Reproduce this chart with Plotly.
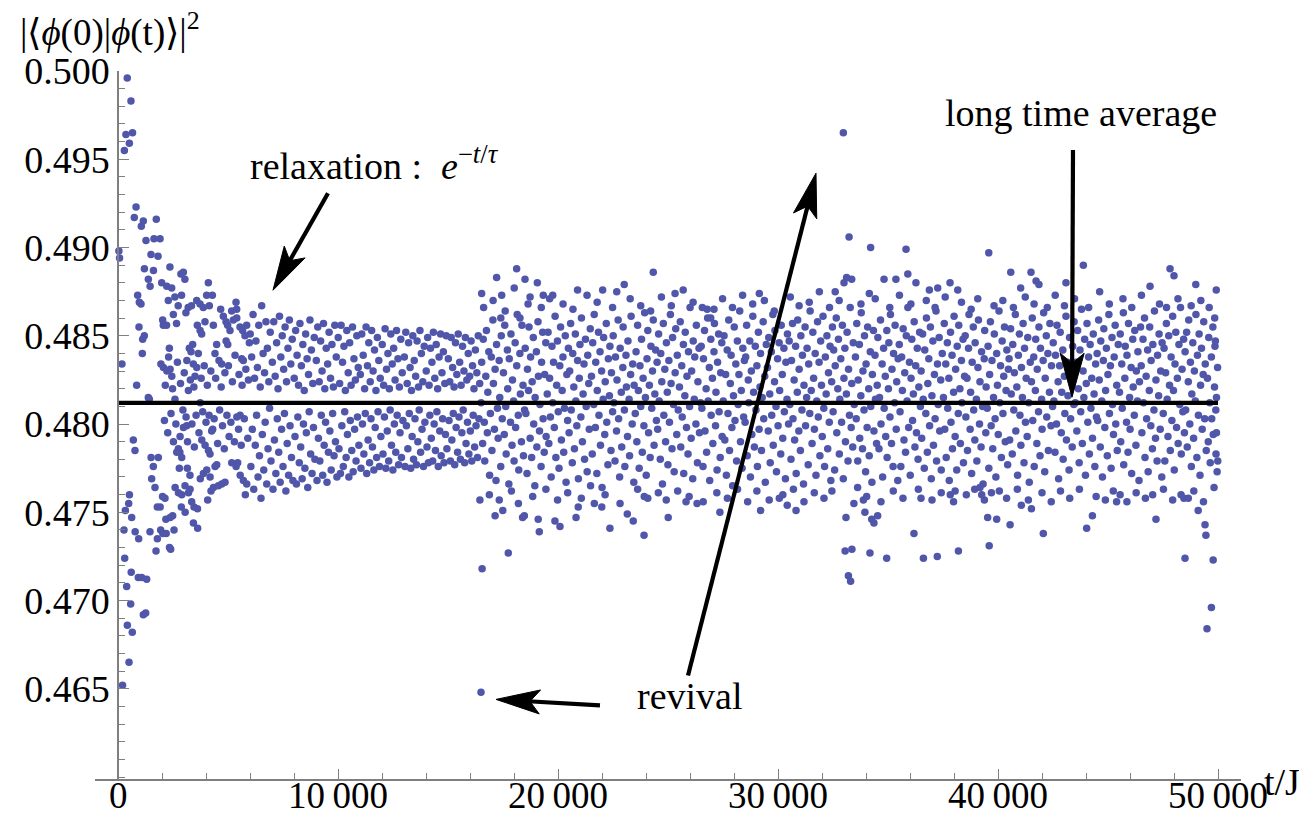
import math
import plotly.graph_objects as go

# Overlap |<phi(0)|phi(t)>|^2 sampled against t/J

# t/J < 2000 : fast initial relaxation
t_early = [
    40, 70, 180, 206, 272, 290, 304, 334, 360, 394,
    420, 424, 486, 500, 516, 520, 576, 590, 600, 622,
    650, 660, 696, 740, 772, 780, 820, 848, 894, 924,
    940, 954, 970, 1046, 1060, 1076, 1106, 1122, 1150, 1152,
    1196, 1200, 1258, 1272, 1304, 1378, 1380, 1424, 1454, 1460,
    1500, 1504, 1530, 1606, 1612, 1636, 1682, 1728, 1740, 1786,
    1790, 1820, 1832, 1910, 1916, 1940, 1950, 1986,
]
y_early = [
    0.4898, 0.4894, 0.4834, 0.4652, 0.4740, 0.4955, 0.4724, 0.4751, 0.4964, 0.4708,
    0.4996, 0.4686, 0.4755, 0.4665, 0.4959, 0.4760, 0.4698, 0.4983, 0.4716, 0.4747,
    0.4682, 0.4965, 0.4791, 0.4917, 0.4785, 0.4739, 0.4923, 0.4822, 0.4873, 0.4713,
    0.4735, 0.4855, 0.4869, 0.4868, 0.4912, 0.4713, 0.4840, 0.4848, 0.4915, 0.4692,
    0.4850, 0.4888, 0.4693, 0.4904, 0.4712, 0.4815, 0.4882, 0.4814, 0.4739, 0.4878,
    0.4896, 0.4781, 0.4769, 0.4776, 0.4887, 0.4905, 0.4764, 0.4728, 0.4916, 0.4753,
    0.4735, 0.4895, 0.4781, 0.4905, 0.4753, 0.4740, 0.4834, 0.4880,
]

# 2000 <= t/J < 6000 : the two branches close in
t_decay = [
    2024, 2030, 2036, 2060, 2066, 2136, 2176, 2190, 2206, 2216,
    2222, 2286, 2334, 2340, 2360, 2368, 2372, 2394, 2440, 2446,
    2484, 2516, 2546, 2584, 2590, 2596, 2660, 2670, 2736, 2744,
    2748, 2788, 2812, 2822, 2860, 2878, 2888, 2896, 2900, 2970,
    2976, 3040, 3046, 3052, 3086, 3094, 3122, 3152, 3190, 3198,
    3204, 3242, 3272, 3276, 3318, 3340, 3348, 3394, 3424, 3428,
    3454, 3500, 3576, 3580, 3606, 3612, 3620, 3728, 3732, 3736,
    3740, 3804, 3808, 3878, 3882, 3954, 3958, 4030, 4034, 4076,
    4106, 4110, 4152, 4182, 4186, 4228, 4258, 4288, 4304, 4334,
    4338, 4408, 4412, 4484, 4488, 4560, 4666, 4712, 4716, 4788,
    4864, 4910, 4914, 4984, 4988, 5090, 5166, 5170, 5242, 5364,
    5368, 5394, 5398, 5402, 5440, 5546, 5550, 5554, 5622, 5666,
    5696, 5700, 5772, 5788, 5848, 5852, 5970,
]
y_decay = [
    0.4759, 0.4859, 0.4738, 0.4856, 0.4832, 0.4758, 0.4746, 0.4738, 0.4856, 0.4878,
    0.4830, 0.4870, 0.4843, 0.4730, 0.4889, 0.4831, 0.4747, 0.4729, 0.4877, 0.4827,
    0.4748, 0.4862, 0.4740, 0.4872, 0.4814, 0.4764, 0.4857, 0.4784, 0.4867, 0.4786,
    0.4761, 0.4775, 0.4784, 0.4793, 0.4885, 0.4753, 0.4873, 0.4781, 0.4760, 0.4886,
    0.4798, 0.4882, 0.4765, 0.4750, 0.4863, 0.4804, 0.4799, 0.4775, 0.4866, 0.4819,
    0.4761, 0.4843, 0.4771, 0.4763, 0.4841, 0.4867, 0.4756, 0.4845, 0.4834, 0.4744,
    0.4753, 0.4827, 0.4870, 0.4832, 0.4856, 0.4752, 0.4741, 0.4868, 0.4853, 0.4812,
    0.4769, 0.4851, 0.4791, 0.4866, 0.4772, 0.4858, 0.4788, 0.4873, 0.4774, 0.4757,
    0.4880, 0.4785, 0.4867, 0.4783, 0.4770, 0.4762, 0.4796, 0.4873, 0.4797, 0.4856,
    0.4764, 0.4840, 0.4776, 0.4845, 0.4777, 0.4765, 0.4865, 0.4834, 0.4766, 0.4861,
    0.4767, 0.4858, 0.4847, 0.4856, 0.4845, 0.4853, 0.4864, 0.4778, 0.4859, 0.4869,
    0.4776, 0.4865, 0.4860, 0.4804, 0.4778, 0.4855, 0.4805, 0.4771, 0.4837, 0.4853,
    0.4836, 0.4768, 0.4850, 0.4760, 0.4856, 0.4766, 0.4846,
]
t_decay_inner = [
    2110, 2260, 2410, 2520, 2630, 2950, 3160, 3360, 3470, 3550,
    3680, 3850, 4000, 4140, 4370, 4530, 4620, 4750, 4830, 4950,
    5050, 5130, 5290, 5480, 5600, 5740, 5900,
    2150, 2300, 2480, 2700, 2840, 3010, 3130, 3290, 3450, 3650,
    3780, 3920, 4060, 4220, 4440, 4590, 4690, 4860, 5020, 5200,
    5320, 5500, 5640, 5810, 5930,
]
y_decay_inner = [
    0.4802, 0.4795, 0.4806, 0.4790, 0.4800, 0.4808, 0.4790, 0.4800, 0.4787, 0.4805,
    0.4795, 0.4807, 0.4801, 0.4805, 0.4803, 0.4789, 0.4808, 0.4799, 0.4786, 0.4805,
    0.4793, 0.4801, 0.4790, 0.4797, 0.4788, 0.4803, 0.4792,
    0.4822, 0.4838, 0.4820, 0.4835, 0.4823, 0.4829, 0.4836, 0.4825, 0.4821, 0.4840,
    0.4826, 0.4833, 0.4822, 0.4830, 0.4826, 0.4836, 0.4821, 0.4829, 0.4833, 0.4824,
    0.4839, 0.4828, 0.4822, 0.4831, 0.4825,
]

# 6000 <= t/J < 11000 : banded regime
t_band1 = [
    6010, 6040, 6075, 6105, 6140, 6170, 6205, 6240, 6270, 6300, 6335, 6365, 6400, 6430, 6465,
    6500, 6530, 6560, 6595, 6625, 6660, 6690, 6725, 6760, 6790, 6820, 6855, 6890, 6920, 6955,
    7015, 7045, 7080, 7110, 7145, 7175, 7210, 7240, 7275, 7305, 7340, 7370, 7400, 7435, 7465,
    7500, 7530, 7565, 7595, 7630, 7660, 7690, 7725, 7755, 7790, 7820, 7855, 7885, 7920, 7950,
    8010, 8045, 8075, 8110, 8140, 8175, 8205, 8240, 8270, 8305, 8335, 8370, 8400, 8430, 8465,
    8495, 8530, 8560, 8595, 8625, 8660, 8690, 8725, 8755, 8790, 8820, 8855, 8885, 8920, 8950,
    9015, 9045, 9080, 9110, 9145, 9175, 9210, 9240, 9275, 9305, 9340, 9370, 9400, 9435, 9465,
    9500, 9530, 9565, 9595, 9630, 9660, 9690, 9725, 9755, 9790, 9820, 9855, 9885, 9920, 9950,
    10010, 10045, 10075, 10110, 10140, 10175, 10205, 10240, 10270, 10305, 10335, 10370, 10400, 10430, 10465,
    10495, 10530, 10560, 10595, 10625, 10660, 10690, 10725, 10755, 10790, 10820, 10855, 10885, 10920, 10950,
]
y_band1 = [
    0.4851, 0.4776, 0.4838, 0.4797, 0.4862, 0.4763, 0.4826, 0.4788, 0.4847, 0.4805, 0.4832, 0.4770, 0.4856, 0.4782, 0.4821,
    0.4758, 0.4867, 0.4794, 0.4840, 0.4774, 0.4829, 0.4801, 0.4858, 0.4766, 0.4843, 0.4786, 0.4824, 0.4809, 0.4852, 0.4779,
    0.4835, 0.4763, 0.4858, 0.4791, 0.4827, 0.4772, 0.4846, 0.4803, 0.4820, 0.4784, 0.4861, 0.4767, 0.4838, 0.4797, 0.4850,
    0.4776, 0.4831, 0.4806, 0.4855, 0.4762, 0.4824, 0.4789, 0.4843, 0.4771, 0.4859, 0.4799, 0.4834, 0.4781, 0.4848, 0.4768,
    0.4826, 0.4793, 0.4853, 0.4766, 0.4839, 0.4804, 0.4822, 0.4778, 0.4857, 0.4787, 0.4833, 0.4769, 0.4845, 0.4800, 0.4819,
    0.4775, 0.4851, 0.4795, 0.4837, 0.4764, 0.4828, 0.4807, 0.4859, 0.4783, 0.4842, 0.4772, 0.4823, 0.4798, 0.4849, 0.4780,
    0.4836, 0.4768, 0.4855, 0.4792, 0.4824, 0.4779, 0.4847, 0.4805, 0.4830, 0.4771, 0.4857, 0.4788, 0.4820, 0.4801, 0.4843,
    0.4767, 0.4834, 0.4784, 0.4852, 0.4796, 0.4826, 0.4774, 0.4845, 0.4806, 0.4821, 0.4782, 0.4856, 0.4790, 0.4838, 0.4770,
    0.4849, 0.4786, 0.4823, 0.4772, 0.4856, 0.4799, 0.4835, 0.4776, 0.4844, 0.4807, 0.4819, 0.4781, 0.4853, 0.4794, 0.4829,
    0.4770, 0.4846, 0.4802, 0.4822, 0.4785, 0.4855, 0.4773, 0.4837, 0.4797, 0.4825, 0.4779, 0.4850, 0.4804, 0.4832, 0.4788,
]

# 11000 <= t/J < 16500 : banded regime, just before the revival
t_band2 = [
    11015, 11045, 11080, 11110, 11145, 11175, 11210, 11240, 11275, 11305, 11340, 11370, 11400, 11435, 11465,
    11500, 11530, 11565, 11595, 11630, 11660, 11690, 11725, 11755, 11790, 11820, 11855, 11885, 11920, 11950,
    12010, 12045, 12075, 12110, 12140, 12175, 12205, 12240, 12270, 12305, 12335, 12370, 12400, 12430, 12465,
    12495, 12530, 12560, 12595, 12625, 12660, 12690, 12725, 12755, 12790, 12820, 12855, 12885, 12920, 12950,
    13015, 13045, 13080, 13110, 13145, 13175, 13210, 13240, 13275, 13305, 13340, 13370, 13400, 13435, 13465,
    13500, 13530, 13565, 13595, 13630, 13660, 13690, 13725, 13755, 13790, 13820, 13855, 13885, 13920, 13950,
    14010, 14045, 14075, 14110, 14140, 14175, 14205, 14240, 14270, 14305, 14335, 14370, 14400, 14430, 14465,
    14495, 14530, 14560, 14595, 14625, 14660, 14690, 14725, 14755, 14790, 14820, 14855, 14885, 14920, 14950,
    15015, 15045, 15080, 15110, 15145, 15175, 15210, 15240, 15275, 15305, 15340, 15370, 15400, 15435, 15465,
    15500, 15530, 15565, 15595, 15630, 15660, 15690, 15725, 15755, 15790, 15820, 15855, 15885, 15920, 15950,
    15985, 16015, 16050, 16080, 16115, 16145, 16180, 16210, 16245, 16275, 16310, 16340, 16375, 16405, 16440,
]
y_band2 = [
    0.4828, 0.4775, 0.4851, 0.4800, 0.4839, 0.4783, 0.4820, 0.4806, 0.4855, 0.4772, 0.4833, 0.4791, 0.4846, 0.4778, 0.4824,
    0.4803, 0.4853, 0.4787, 0.4830, 0.4774, 0.4842, 0.4798, 0.4819, 0.4781, 0.4849, 0.4807, 0.4836, 0.4776, 0.4826, 0.4793,
    0.4845, 0.4783, 0.4822, 0.4804, 0.4854, 0.4775, 0.4831, 0.4796, 0.4840, 0.4779, 0.4820, 0.4808, 0.4851, 0.4788, 0.4834,
    0.4774, 0.4843, 0.4800, 0.4825, 0.4784, 0.4853, 0.4805, 0.4837, 0.4777, 0.4821, 0.4795, 0.4848, 0.4781, 0.4829, 0.4802,
    0.4838, 0.4776, 0.4852, 0.4799, 0.4823, 0.4786, 0.4846, 0.4806, 0.4832, 0.4775, 0.4819, 0.4793, 0.4850, 0.4780, 0.4836,
    0.4803, 0.4827, 0.4777, 0.4847, 0.4790, 0.4821, 0.4808, 0.4853, 0.4784, 0.4840, 0.4797, 0.4824, 0.4776, 0.4844, 0.4801,
    0.4830, 0.4787, 0.4849, 0.4778, 0.4822, 0.4805, 0.4843, 0.4792, 0.4835, 0.4779, 0.4852, 0.4800, 0.4826, 0.4785, 0.4845,
    0.4807, 0.4820, 0.4776, 0.4838, 0.4796, 0.4851, 0.4782, 0.4829, 0.4803, 0.4841, 0.4778, 0.4823, 0.4794, 0.4850, 0.4786,
    0.4837, 0.4802, 0.4824, 0.4779, 0.4849, 0.4791, 0.4832, 0.4806, 0.4821, 0.4777, 0.4846, 0.4798, 0.4828, 0.4784, 0.4851,
    0.4804, 0.4835, 0.4780, 0.4822, 0.4795, 0.4844, 0.4808, 0.4830, 0.4778, 0.4849, 0.4789, 0.4825, 0.4801, 0.4840, 0.4783,
    0.4827, 0.4796, 0.4847, 0.4779, 0.4833, 0.4805, 0.4820, 0.4787, 0.4842, 0.4799, 0.4829, 0.4781, 0.4850, 0.4803, 0.4823,
]

# 16500 <= t/J < 24500 : after the revival
t_late1 = [
    16505, 16531, 16574, 16602, 16649, 16671, 16718, 16747, 16788, 16810, 16855, 16891, 16927, 16968, 16997, 17040, 17066, 17109, 17141, 17182, 17207, 17249, 17281, 17326, 17352, 17397, 17421, 17466,
    17521, 17557, 17579, 17625, 17646, 17698, 17715, 17766, 17784, 17841, 17862, 17910, 17931, 17982, 18003, 18052, 18075, 18124, 18146, 18194, 18216, 18268, 18289, 18338, 18360, 18409, 18430, 18481,
    18509, 18540, 18591, 18613, 18660, 18682, 18733, 18755, 18801, 18826, 18877, 18896, 18946, 18961, 19018, 19038, 19089, 19111, 19160, 19180, 19231, 19253, 19302, 19322, 19373, 19395, 19444, 19460,
    19512, 19548, 19583, 19619, 19654, 19690, 19726, 19761, 19797, 19832, 19868, 19904, 19939, 19975, 20011, 20046, 20082, 20117, 20153, 20189, 20224, 20260, 20295, 20331, 20367, 20402, 20438, 20473,
    20505, 20531, 20574, 20602, 20649, 20671, 20718, 20747, 20788, 20810, 20855, 20891, 20927, 20968, 20997, 21040, 21066, 21109, 21141, 21182, 21207, 21249, 21281, 21326, 21352, 21397, 21421, 21466,
    21521, 21557, 21579, 21625, 21646, 21698, 21715, 21766, 21784, 21841, 21862, 21910, 21931, 21982, 22003, 22052, 22075, 22124, 22146, 22194, 22216, 22268, 22289, 22338, 22360, 22409, 22430, 22481,
    22509, 22540, 22591, 22613, 22660, 22682, 22733, 22755, 22801, 22826, 22877, 22896, 22946, 22961, 23018, 23038, 23089, 23111, 23160, 23180, 23231, 23253, 23302, 23322, 23373, 23395, 23444, 23460,
    23512, 23548, 23583, 23619, 23654, 23690, 23726, 23761, 23797, 23832, 23868, 23904, 23939, 23975, 24011, 24046, 24082, 24117, 24153, 24189, 24224, 24260, 24295, 24331, 24367, 24402, 24438, 24473,
]
y_late1 = [
    0.4812, 0.4835, 0.4789, 0.4848, 0.4801, 0.4779, 0.4827, 0.4853, 0.4795, 0.4818, 0.4841, 0.4771, 0.4806, 0.4838, 0.4785, 0.4859, 0.4823, 0.4797, 0.4831, 0.4768, 0.4845, 0.4809, 0.4792, 0.4836, 0.4815, 0.4776, 0.4850, 0.4803,
    0.4829, 0.4794, 0.4856, 0.4810, 0.4783, 0.4842, 0.4820, 0.4766, 0.4837, 0.4801, 0.4851, 0.4788, 0.4825, 0.4813, 0.4779, 0.4846, 0.4798, 0.4833, 0.4862, 0.4805, 0.4774, 0.4840, 0.4817, 0.4790, 0.4856, 0.4822, 0.4782, 0.4808,
    0.4843, 0.4806, 0.4772, 0.4831, 0.4819, 0.4855, 0.4792, 0.4838, 0.4781, 0.4824, 0.4849, 0.4800, 0.4765, 0.4815, 0.4841, 0.4787, 0.4858, 0.4827, 0.4796, 0.4811, 0.4776, 0.4835, 0.4852, 0.4803, 0.4784, 0.4828, 0.4846, 0.4793,
    0.4817, 0.4852, 0.4789, 0.4826, 0.4804, 0.4770, 0.4844, 0.4812, 0.4835, 0.4798, 0.4861, 0.4781, 0.4822, 0.4847, 0.4807, 0.4775, 0.4833, 0.4855, 0.4791, 0.4819, 0.4838, 0.4784, 0.4809, 0.4850, 0.4767, 0.4828, 0.4802, 0.4843,
    0.4795, 0.4830, 0.4857, 0.4808, 0.4778, 0.4840, 0.4821, 0.4786, 0.4851, 0.4813, 0.4799, 0.4836, 0.4769, 0.4826, 0.4845, 0.4804, 0.4860, 0.4790, 0.4817, 0.4834, 0.4780, 0.4848, 0.4810, 0.4773, 0.4839, 0.4823, 0.4797, 0.4854,
    0.4827, 0.4783, 0.4846, 0.4811, 0.4862, 0.4798, 0.4835, 0.4772, 0.4819, 0.4852, 0.4805, 0.4841, 0.4788, 0.4830, 0.4764, 0.4814, 0.4849, 0.4794, 0.4824, 0.4857, 0.4801, 0.4777, 0.4837, 0.4816, 0.4844, 0.4785, 0.4829, 0.4807,
    0.4850, 0.4812, 0.4779, 0.4838, 0.4796, 0.4825, 0.4859, 0.4803, 0.4770, 0.4843, 0.4818, 0.4787, 0.4832, 0.4855, 0.4808, 0.4776, 0.4839, 0.4821, 0.4793, 0.4847, 0.4814, 0.4782, 0.4828, 0.4861, 0.4800, 0.4834, 0.4767, 0.4822,
    0.4806, 0.4841, 0.4790, 0.4856, 0.4819, 0.4775, 0.4833, 0.4810, 0.4848, 0.4784, 0.4826, 0.4799, 0.4863, 0.4815, 0.4771, 0.4837, 0.4853, 0.4795, 0.4822, 0.4781, 0.4844, 0.4809, 0.4830, 0.4859, 0.4788, 0.4817, 0.4842, 0.4802,
]

# 24500 <= t/J < 32500
t_late2 = [
    24505, 24531, 24574, 24602, 24649, 24671, 24718, 24747, 24788, 24810, 24855, 24891, 24927, 24968, 24997, 25040, 25066, 25109, 25141, 25182, 25207, 25249, 25281, 25326, 25352, 25397, 25421, 25466,
    25521, 25557, 25579, 25625, 25646, 25698, 25715, 25766, 25784, 25841, 25862, 25910, 25931, 25982, 26003, 26052, 26075, 26124, 26146, 26194, 26216, 26268, 26289, 26338, 26360, 26409, 26430, 26481,
    26509, 26540, 26591, 26613, 26660, 26682, 26733, 26755, 26801, 26826, 26877, 26896, 26946, 26961, 27018, 27038, 27089, 27111, 27160, 27180, 27231, 27253, 27302, 27322, 27373, 27395, 27444, 27460,
    27512, 27548, 27583, 27619, 27654, 27690, 27726, 27761, 27797, 27832, 27868, 27904, 27939, 27975, 28011, 28046, 28082, 28117, 28153, 28189, 28224, 28260, 28295, 28331, 28367, 28402, 28438, 28473,
    28505, 28531, 28574, 28602, 28649, 28671, 28718, 28747, 28788, 28810, 28855, 28891, 28927, 28968, 28997, 29040, 29066, 29109, 29141, 29182, 29207, 29249, 29281, 29326, 29352, 29397, 29421, 29466,
    29521, 29557, 29579, 29625, 29646, 29698, 29715, 29766, 29784, 29841, 29862, 29910, 29931, 29982, 30003, 30052, 30075, 30124, 30146, 30194, 30216, 30268, 30289, 30338, 30360, 30409, 30430, 30481,
    30509, 30540, 30591, 30613, 30660, 30682, 30733, 30755, 30801, 30826, 30877, 30896, 30946, 30961, 31018, 31038, 31089, 31111, 31160, 31180, 31231, 31253, 31302, 31322, 31373, 31395, 31444, 31460,
    31512, 31548, 31583, 31619, 31654, 31690, 31726, 31761, 31797, 31832, 31868, 31904, 31939, 31975, 32011, 32046, 32082, 32117, 32153, 32189, 32224, 32260, 32295, 32331, 32367, 32402, 32438, 32473,
]
y_late2 = [
    0.4835, 0.4797, 0.4851, 0.4813, 0.4780, 0.4840, 0.4824, 0.4766, 0.4857, 0.4805, 0.4831, 0.4790, 0.4846, 0.4818, 0.4777, 0.4836, 0.4801, 0.4862, 0.4823, 0.4786, 0.4849, 0.4811, 0.4773, 0.4829, 0.4854, 0.4794, 0.4839, 0.4808,
    0.4821, 0.4858, 0.4787, 0.4833, 0.4804, 0.4845, 0.4772, 0.4816, 0.4852, 0.4798, 0.4827, 0.4783, 0.4841, 0.4810, 0.4866, 0.4792, 0.4830, 0.4769, 0.4847, 0.4814, 0.4838, 0.4800, 0.4856, 0.4778, 0.4824, 0.4843, 0.4795, 0.4812,
    0.4844, 0.4809, 0.4776, 0.4837, 0.4853, 0.4796, 0.4820, 0.4784, 0.4860, 0.4813, 0.4832, 0.4768, 0.4848, 0.4805, 0.4826, 0.4789, 0.4841, 0.4857, 0.4799, 0.4818, 0.4774, 0.4835, 0.4851, 0.4807, 0.4781, 0.4829, 0.4846, 0.4793,
    0.4813, 0.4850, 0.4791, 0.4828, 0.4771, 0.4842, 0.4806, 0.4859, 0.4785, 0.4823, 0.4839, 0.4798, 0.4765, 0.4816, 0.4855, 0.4802, 0.4834, 0.4779, 0.4847, 0.4811, 0.4828, 0.4864, 0.4790, 0.4819, 0.4775, 0.4843, 0.4804, 0.4836,
    0.4801, 0.4838, 0.4856, 0.4782, 0.4825, 0.4812, 0.4847, 0.4770, 0.4830, 0.4794, 0.4861, 0.4818, 0.4787, 0.4844, 0.4808, 0.4833, 0.4776, 0.4852, 0.4797, 0.4821, 0.4840, 0.4785, 0.4815, 0.4858, 0.4803, 0.4827, 0.4767, 0.4845,
    0.4832, 0.4796, 0.4849, 0.4817, 0.4778, 0.4841, 0.4805, 0.4862, 0.4788, 0.4824, 0.4853, 0.4810, 0.4773, 0.4837, 0.4799, 0.4846, 0.4819, 0.4783, 0.4856, 0.4828, 0.4792, 0.4843, 0.4807, 0.4769, 0.4835, 0.4814, 0.4851, 0.4800,
    0.4847, 0.4811, 0.4780, 0.4836, 0.4857, 0.4803, 0.4825, 0.4791, 0.4844, 0.4772, 0.4818, 0.4859, 0.4796, 0.4831, 0.4785, 0.4850, 0.4808, 0.4839, 0.4766, 0.4822, 0.4855, 0.4799, 0.4815, 0.4843, 0.4777, 0.4834, 0.4806, 0.4864,
    0.4819, 0.4789, 0.4852, 0.4826, 0.4797, 0.4840, 0.4771, 0.4813, 0.4858, 0.4804, 0.4835, 0.4782, 0.4847, 0.4822, 0.4793, 0.4861, 0.4809, 0.4776, 0.4838, 0.4817, 0.4850, 0.4786, 0.4829, 0.4801, 0.4844, 0.4768, 0.4824, 0.4855,
]

# 32500 <= t/J < 40500
t_late3 = [
    32505, 32531, 32574, 32602, 32649, 32671, 32718, 32747, 32788, 32810, 32855, 32891, 32927, 32968, 32997, 33040, 33066, 33109, 33141, 33182, 33207, 33249, 33281, 33326, 33352, 33397, 33421, 33466,
    33521, 33557, 33579, 33625, 33646, 33698, 33715, 33766, 33784, 33841, 33862, 33910, 33931, 33982, 34003, 34052, 34075, 34124, 34146, 34194, 34216, 34268, 34289, 34338, 34360, 34409, 34430, 34481,
    34509, 34540, 34591, 34613, 34660, 34682, 34733, 34755, 34801, 34826, 34877, 34896, 34946, 34961, 35018, 35038, 35089, 35111, 35160, 35180, 35231, 35253, 35302, 35322, 35373, 35395, 35444, 35460,
    35512, 35548, 35583, 35619, 35654, 35690, 35726, 35761, 35797, 35832, 35868, 35904, 35939, 35975, 36011, 36046, 36082, 36117, 36153, 36189, 36224, 36260, 36295, 36331, 36367, 36402, 36438, 36473,
    36505, 36531, 36574, 36602, 36649, 36671, 36718, 36747, 36788, 36810, 36855, 36891, 36927, 36968, 36997, 37040, 37066, 37109, 37141, 37182, 37207, 37249, 37281, 37326, 37352, 37397, 37421, 37466,
    37521, 37557, 37579, 37625, 37646, 37698, 37715, 37766, 37784, 37841, 37862, 37910, 37931, 37982, 38003, 38052, 38075, 38124, 38146, 38194, 38216, 38268, 38289, 38338, 38360, 38409, 38430, 38481,
    38509, 38540, 38591, 38613, 38660, 38682, 38733, 38755, 38801, 38826, 38877, 38896, 38946, 38961, 39018, 39038, 39089, 39111, 39160, 39180, 39231, 39253, 39302, 39322, 39373, 39395, 39444, 39460,
    39512, 39548, 39583, 39619, 39654, 39690, 39726, 39761, 39797, 39832, 39868, 39904, 39939, 39975, 40011, 40046, 40082, 40117, 40153, 40189, 40224, 40260, 40295, 40331, 40367, 40402, 40438, 40473,
]
y_late3 = [
    0.4807, 0.4842, 0.4774, 0.4833, 0.4860, 0.4795, 0.4820, 0.4848, 0.4783, 0.4814, 0.4837, 0.4801, 0.4856, 0.4769, 0.4826, 0.4843, 0.4790, 0.4817, 0.4852, 0.4779, 0.4831, 0.4805, 0.4866, 0.4798, 0.4823, 0.4787, 0.4846, 0.4811,
    0.4838, 0.4803, 0.4857, 0.4779, 0.4825, 0.4845, 0.4792, 0.4816, 0.4863, 0.4786, 0.4830, 0.4808, 0.4850, 0.4773, 0.4834, 0.4798, 0.4855, 0.4820, 0.4782, 0.4841, 0.4810, 0.4767, 0.4828, 0.4853, 0.4796, 0.4839, 0.4814, 0.4789,
    0.4822, 0.4849, 0.4786, 0.4815, 0.4859, 0.4800, 0.4834, 0.4770, 0.4843, 0.4809, 0.4827, 0.4793, 0.4853, 0.4781, 0.4820, 0.4846, 0.4804, 0.4862, 0.4789, 0.4831, 0.4776, 0.4840, 0.4812, 0.4856, 0.4797, 0.4824, 0.4768, 0.4837,
    0.4845, 0.4807, 0.4776, 0.4838, 0.4819, 0.4854, 0.4791, 0.4829, 0.4784, 0.4850, 0.4813, 0.4866, 0.4798, 0.4835, 0.4771, 0.4826, 0.4848, 0.4802, 0.4817, 0.4858, 0.4787, 0.4833, 0.4795, 0.4843, 0.4780, 0.4821, 0.4852, 0.4810,
    0.4830, 0.4792, 0.4851, 0.4814, 0.4775, 0.4842, 0.4806, 0.4860, 0.4784, 0.4823, 0.4837, 0.4799, 0.4855, 0.4769, 0.4816, 0.4847, 0.4788, 0.4828, 0.4803, 0.4864, 0.4779, 0.4834, 0.4811, 0.4849, 0.4796, 0.4825, 0.4774, 0.4840,
    0.4815, 0.4857, 0.4797, 0.4834, 0.4781, 0.4846, 0.4809, 0.4826, 0.4768, 0.4852, 0.4801, 0.4839, 0.4786, 0.4818, 0.4861, 0.4793, 0.4831, 0.4774, 0.4844, 0.4806, 0.4856, 0.4820, 0.4789, 0.4836, 0.4812, 0.4848, 0.4778, 0.4827,
    0.4850, 0.4804, 0.4826, 0.4785, 0.4843, 0.4862, 0.4797, 0.4818, 0.4772, 0.4835, 0.4855, 0.4808, 0.4791, 0.4846, 0.4814, 0.4779, 0.4832, 0.4859, 0.4800, 0.4824, 0.4787, 0.4841, 0.4810, 0.4766, 0.4837, 0.4853, 0.4795, 0.4821,
    0.4809, 0.4844, 0.4775, 0.4828, 0.4858, 0.4799, 0.4836, 0.4786, 0.4815, 0.4851, 0.4803, 0.4770, 0.4840, 0.4822, 0.4794, 0.4864, 0.4812, 0.4833, 0.4781, 0.4847, 0.4806, 0.4827, 0.4855, 0.4790, 0.4819, 0.4842, 0.4777, 0.4831,
]

# 40500 <= t/J <= 50000
t_late4 = [
    40505, 40531, 40574, 40602, 40649, 40671, 40718, 40747, 40788, 40810, 40855, 40891, 40927, 40968, 40997, 41040, 41066, 41109, 41141, 41182, 41207, 41249, 41281, 41326, 41352, 41397, 41421, 41466,
    41521, 41557, 41579, 41625, 41646, 41698, 41715, 41766, 41784, 41841, 41862, 41910, 41931, 41982, 42003, 42052, 42075, 42124, 42146, 42194, 42216, 42268, 42289, 42338, 42360, 42409, 42430, 42481,
    42509, 42540, 42591, 42613, 42660, 42682, 42733, 42755, 42801, 42826, 42877, 42896, 42946, 42961, 43018, 43038, 43089, 43111, 43160, 43180, 43231, 43253, 43302, 43322, 43373, 43395, 43444, 43460,
    43512, 43548, 43583, 43619, 43654, 43690, 43726, 43761, 43797, 43832, 43868, 43904, 43939, 43975, 44011, 44046, 44082, 44117, 44153, 44189, 44224, 44260, 44295, 44331, 44367, 44402, 44438, 44473,
    44505, 44531, 44574, 44602, 44649, 44671, 44718, 44747, 44788, 44810, 44855, 44891, 44927, 44968, 44997, 45040, 45066, 45109, 45141, 45182, 45207, 45249, 45281, 45326, 45352, 45397, 45421, 45466,
    45521, 45557, 45579, 45625, 45646, 45698, 45715, 45766, 45784, 45841, 45862, 45910, 45931, 45982, 46003, 46052, 46075, 46124, 46146, 46194, 46216, 46268, 46289, 46338, 46360, 46409, 46430, 46481,
    46509, 46540, 46591, 46613, 46660, 46682, 46733, 46755, 46801, 46826, 46877, 46896, 46946, 46961, 47018, 47038, 47089, 47111, 47160, 47180, 47231, 47253, 47302, 47322, 47373, 47395, 47444, 47460,
    47512, 47548, 47583, 47619, 47654, 47690, 47726, 47761, 47797, 47832, 47868, 47904, 47939, 47975, 48011, 48046, 48082, 48117, 48153, 48189, 48224, 48260, 48295, 48331, 48367, 48402, 48438, 48473,
    48505, 48531, 48574, 48602, 48649, 48671, 48718, 48747, 48788, 48810, 48855, 48891, 48927, 48968, 48997, 49040, 49066, 49109, 49141, 49182, 49207, 49249, 49281, 49326, 49352, 49397, 49421, 49466,
    49521, 49557, 49579, 49625, 49646, 49698, 49715, 49766, 49784, 49841, 49862, 49910, 49931, 49982,
]
y_late4 = [
    0.4837, 0.4791, 0.4854, 0.4817, 0.4783, 0.4845, 0.4808, 0.4829, 0.4862, 0.4796, 0.4821, 0.4771, 0.4839, 0.4851, 0.4805, 0.4788, 0.4832, 0.4815, 0.4857, 0.4778, 0.4843, 0.4801, 0.4826, 0.4793, 0.4849, 0.4812, 0.4767, 0.4835,
    0.4824, 0.4860, 0.4802, 0.4838, 0.4776, 0.4819, 0.4848, 0.4789, 0.4831, 0.4807, 0.4855, 0.4782, 0.4843, 0.4814, 0.4797, 0.4836, 0.4863, 0.4773, 0.4826, 0.4850, 0.4804, 0.4840, 0.4785, 0.4818, 0.4857, 0.4799, 0.4833, 0.4810,
    0.4846, 0.4813, 0.4784, 0.4839, 0.4800, 0.4856, 0.4824, 0.4769, 0.4833, 0.4852, 0.4795, 0.4818, 0.4842, 0.4780, 0.4827, 0.4806, 0.4861, 0.4791, 0.4835, 0.4816, 0.4774, 0.4849, 0.4803, 0.4829, 0.4787, 0.4844, 0.4811, 0.4858,
    0.4812, 0.4835, 0.4796, 0.4853, 0.4820, 0.4778, 0.4842, 0.4807, 0.4865, 0.4789, 0.4830, 0.4815, 0.4848, 0.4771, 0.4823, 0.4857, 0.4801, 0.4838, 0.4783, 0.4845, 0.4809, 0.4826, 0.4792, 0.4851, 0.4817, 0.4776, 0.4834, 0.4804,
    0.4840, 0.4802, 0.4859, 0.4825, 0.4787, 0.4847, 0.4813, 0.4770, 0.4836, 0.4854, 0.4798, 0.4819, 0.4843, 0.4782, 0.4828, 0.4862, 0.4806, 0.4833, 0.4775, 0.4849, 0.4811, 0.4794, 0.4838, 0.4856, 0.4800, 0.4822, 0.4785, 0.4845,
    0.4818, 0.4851, 0.4790, 0.4834, 0.4809, 0.4863, 0.4777, 0.4826, 0.4844, 0.4801, 0.4839, 0.4784, 0.4857, 0.4815, 0.4797, 0.4832, 0.4772, 0.4848, 0.4821, 0.4805, 0.4853, 0.4788, 0.4830, 0.4813, 0.4841, 0.4768, 0.4824, 0.4855,
    0.4833, 0.4795, 0.4848, 0.4812, 0.4860, 0.4781, 0.4827, 0.4803, 0.4842, 0.4773, 0.4819, 0.4855, 0.4799, 0.4836, 0.4786, 0.4845, 0.4808, 0.4864, 0.4792, 0.4825, 0.4779, 0.4839, 0.4816, 0.4851, 0.4797, 0.4830, 0.4770, 0.4846,
    0.4806, 0.4843, 0.4779, 0.4829, 0.4857, 0.4814, 0.4793, 0.4850, 0.4822, 0.4785, 0.4838, 0.4802, 0.4861, 0.4819, 0.4774, 0.4834, 0.4852, 0.4798, 0.4826, 0.4789, 0.4845, 0.4811, 0.4866, 0.4783, 0.4831, 0.4807, 0.4848, 0.4795,
    0.4841, 0.4808, 0.4852, 0.4787, 0.4824, 0.4859, 0.4800, 0.4835, 0.4776, 0.4817, 0.4846, 0.4792, 0.4830, 0.4813, 0.4862, 0.4781, 0.4839, 0.4805, 0.4851, 0.4771, 0.4822, 0.4843, 0.4797, 0.4828, 0.4858, 0.4803, 0.4834, 0.4785,
    0.4826, 0.4790, 0.4849, 0.4812, 0.4778, 0.4838, 0.4803, 0.4855, 0.4794, 0.4821, 0.4844, 0.4783, 0.4815, 0.4832,
]

# outer fringe of the post-revival cloud
t_fringe = [
    16620, 16880, 17050, 17330, 17600, 17880, 18010, 18200, 18640, 18850,
    19240, 19450, 19620, 19980, 20230, 20440, 20680, 21060, 21320, 21480,
    21780, 22140, 22480, 22820, 23280, 23620, 23760, 24080, 24210, 24560,
    24700, 24920, 25150, 25440, 25690, 25960, 26140, 26320, 26780, 27220,
    27480, 27700, 27930, 28160, 28390, 28620, 28850, 29040, 29380, 29600,
    29830, 30220, 30560, 30700, 30960, 31180, 31420, 31650, 31880, 32090,
    32340, 32450, 32780, 33620, 33770, 34030, 34420, 34680, 35080, 35240,
    35520, 35680, 36040, 36380, 36740, 37000, 37140, 37420, 37600, 37980,
    38340, 38560, 38780, 38940, 39080, 39380, 39820, 40060, 40220, 40390,
    40700, 40880, 41240, 41380, 41640, 42000, 42240, 42420, 42600, 42840,
    43020, 43260, 43480, 43700, 44120, 44460, 44620, 44880, 45060, 45240,
    45680, 45860, 46080, 46280, 46520, 46700, 47340, 47520, 47660, 47940,
    48180, 48320, 48780, 48900, 49220, 49340, 49600,
]
y_fringe = [
    0.4866, 0.4760, 0.4870, 0.4757, 0.4864, 0.4762, 0.4877, 0.4755, 0.4868, 0.4759,
    0.4866, 0.4763, 0.4871, 0.4757, 0.4868, 0.4761, 0.4865, 0.4758, 0.4873, 0.4765,
    0.4869, 0.4760, 0.4866, 0.4755, 0.4871, 0.4763, 0.4867, 0.4758, 0.4864, 0.4761,
    0.4872, 0.4757, 0.4867, 0.4762, 0.4876, 0.4759, 0.4869, 0.4755, 0.4865, 0.4761,
    0.4871, 0.4758, 0.4866, 0.4763, 0.4873, 0.4756, 0.4868, 0.4762, 0.4870, 0.4757,
    0.4864, 0.4760, 0.4872, 0.4763, 0.4867, 0.4756, 0.4869, 0.4761, 0.4875, 0.4758,
    0.4866, 0.4762, 0.4870, 0.4764, 0.4868, 0.4759, 0.4871, 0.4756, 0.4866, 0.4762,
    0.4873, 0.4758, 0.4868, 0.4763, 0.4870, 0.4757, 0.4866, 0.4761, 0.4872, 0.4756,
    0.4869, 0.4760, 0.4865, 0.4763, 0.4871, 0.4757, 0.4867, 0.4762, 0.4870, 0.4758,
    0.4866, 0.4763, 0.4872, 0.4757, 0.4868, 0.4761, 0.4866, 0.4756, 0.4873, 0.4762,
    0.4867, 0.4758, 0.4871, 0.4763, 0.4866, 0.4759, 0.4875, 0.4757, 0.4868, 0.4762,
    0.4871, 0.4756, 0.4866, 0.4761, 0.4873, 0.4758, 0.4868, 0.4763, 0.4866, 0.4757,
    0.4871, 0.4760, 0.4867, 0.4762, 0.4870, 0.4756, 0.4866,
]

# isolated excursions after the revival (including the revival dip itself)
t_excursion = [
    16450, 16500, 16530, 16550, 17140, 17210, 17400, 17440, 17490, 17740,
    18120, 18270, 18390, 18470, 18500, 18730, 19060, 19100, 19150, 19330,
    19760, 19860, 20090, 20820, 20890, 20920, 21650, 21990, 22030, 22360,
    22670, 23010, 23150, 23420, 23910, 23920, 24330, 25010, 25320, 25820,
    26560, 26600, 26940, 27090, 27360, 29150, 29210, 30060, 30420, 30820,
    32600, 32970, 33000, 33050, 33090, 33120, 33200, 33230, 33300, 33350,
    33360, 33450, 33880, 33950, 34150, 34180, 34210, 34260, 34360, 34530,
    34820, 34940, 35360, 35820, 35900, 36180, 36270, 36500, 36610, 36880,
    37240, 37260, 37820, 37830, 38050, 38170, 38200, 39180, 39260, 39530,
    39580, 39600, 39700, 39940, 40550, 40580, 41030, 41060, 41500, 41520,
    41730, 41860, 42060, 43090, 43880, 44030, 44290, 45390, 45550, 46910,
    47030, 47180, 47820, 48000, 48450, 48500, 48650, 48990, 49100, 49410,
    49450, 49500, 49700, 49780, 49820, 49850, 49880, 49900, 49920, 49930,
    49960, 49990,
]
y_excursion = [
    0.4757, 0.4648, 0.4874, 0.4718, 0.4748, 0.4883, 0.4860, 0.4873, 0.4751, 0.4727,
    0.4888, 0.4860, 0.4747, 0.4748, 0.4882, 0.4872, 0.4880, 0.4746, 0.4739, 0.4873,
    0.4873, 0.4745, 0.4742, 0.4747, 0.4876, 0.4753, 0.4755, 0.4753, 0.4876, 0.4741,
    0.4875, 0.4879, 0.4749, 0.4745, 0.4737, 0.4759, 0.4886, 0.4747, 0.4874, 0.4756,
    0.4866, 0.4756, 0.4860, 0.4865, 0.4750, 0.4874, 0.4751, 0.4758, 0.4754, 0.4751,
    0.4875, 0.4965, 0.4880, 0.4728, 0.4747, 0.4883, 0.4714, 0.4906, 0.4711, 0.4882,
    0.4729, 0.4755, 0.4757, 0.4750, 0.4874, 0.4727, 0.4900, 0.4746, 0.4744, 0.4748,
    0.4882, 0.4724, 0.4882, 0.4899, 0.4885, 0.4738, 0.4880, 0.4758, 0.4724, 0.4876,
    0.4725, 0.4877, 0.4880, 0.4760, 0.4762, 0.4876, 0.4728, 0.4764, 0.4760, 0.4747,
    0.4897, 0.4731, 0.4761, 0.4746, 0.4743, 0.4886, 0.4877, 0.4754, 0.4886, 0.4752,
    0.4881, 0.4879, 0.4738, 0.4880, 0.4890, 0.4741, 0.4748, 0.4756, 0.4760, 0.4878,
    0.4760, 0.4746, 0.4888, 0.4884, 0.4758, 0.4724, 0.4758, 0.4879, 0.4751, 0.4743,
    0.4737, 0.4684, 0.4696, 0.4723, 0.4764, 0.4860, 0.4847, 0.4808, 0.4876, 0.4795,
    0.4773, 0.4779,
]

long_time_average = 0.4812
t_span = [0, 50000]

# axis ticks
x_tick_vals = [0, 10000, 20000, 30000, 40000, 50000]
x_tick_text = ["0", "10\u2009000", "20\u2009000", "30\u2009000", "40\u2009000", "50\u2009000"]
y_tick_vals = [0.465, 0.470, 0.475, 0.480, 0.485, 0.490, 0.495, 0.500]

segments = [
    (t_early, y_early), (t_decay, y_decay), (t_decay_inner, y_decay_inner),
    (t_band1, y_band1), (t_band2, y_band2),
    (t_late1, y_late1), (t_late2, y_late2), (t_late3, y_late3), (t_late4, y_late4),
    (t_fringe, y_fringe), (t_excursion, y_excursion),
]
all_t, all_y = [], []
for ts, ys in segments:
    assert len(ts) == len(ys)
    all_t += ts
    all_y += ys

# ---- page geometry ----
FIG_W, FIG_H = 1299, 819
M_L, M_R, M_T, M_B = 95, 58, 71, 40
PLOT_W = FIG_W - M_L - M_R
PLOT_H = FIG_H - M_T - M_B
X_RANGE = [-1045.45, 51045.45]
Y_RANGE = [0.45989, 0.5000]

AXIS_GRAY = "#7f7f7f"
DOT_COLOR = "#5056a9"
SERIF = "Liberation Serif"


def to_px(t, y):
    px = M_L + (t - X_RANGE[0]) / (X_RANGE[1] - X_RANGE[0]) * PLOT_W
    py = M_T + (Y_RANGE[1] - y) / (Y_RANGE[1] - Y_RANGE[0]) * PLOT_H
    return px, py


def to_paper(px, py):
    return (px - M_L) / PLOT_W, (M_T + PLOT_H - py) / PLOT_H


def arrow(t0, y0, t1, y1, head_len=44, head_half=12, notch=10, width=4.2):
    """Straight arrow with a notched filled head, from (t0, y0) to (t1, y1)."""
    x0, v0 = to_px(t0, y0)
    x1, v1 = to_px(t1, y1)
    dx, dy = x1 - x0, v1 - v0
    n = math.hypot(dx, dy)
    ux, uy = dx / n, dy / n
    nx, ny = -uy, ux
    bx, by = x1 - head_len * ux, v1 - head_len * uy
    sx, sy = x1 - (head_len - notch - 2) * ux, v1 - (head_len - notch - 2) * uy
    pts = [
        (x1, v1),
        (bx + head_half * nx, by + head_half * ny),
        (x1 - (head_len - notch) * ux, v1 - (head_len - notch) * uy),
        (bx - head_half * nx, by - head_half * ny),
    ]
    pp = [to_paper(*p) for p in pts]
    path = "M " + " L ".join(f"{a:.5f},{b:.5f}" for a, b in pp) + " Z"
    a0 = to_paper(x0, v0)
    a1 = to_paper(sx, sy)
    return [
        dict(type="line", xref="paper", yref="paper", x0=a0[0], y0=a0[1], x1=a1[0], y1=a1[1],
             line=dict(color="black", width=width)),
        dict(type="path", xref="paper", yref="paper", path=path,
             fillcolor="black", line=dict(color="black", width=1)),
    ]


fig = go.Figure()
fig.add_trace(go.Scatter(
    x=all_t, y=all_y, mode="markers",
    marker=dict(size=7.5, color=DOT_COLOR, line=dict(width=0)),
    hoverinfo="skip", showlegend=False,
))
fig.add_trace(go.Scatter(
    x=t_span, y=[long_time_average, long_time_average], mode="lines",
    line=dict(color="black", width=4.2), hoverinfo="skip", showlegend=False,
))

shapes = []
shapes += arrow(9545, 0.49307, 7045, 0.48758)      # relaxation
shapes += arrow(21909, 0.46406, 17182, 0.46440)    # revival dip
shapes += arrow(25909, 0.46575, 31727, 0.49421)    # revival peak
shapes += arrow(43409, 0.49552, 43364, 0.48152)    # long time average

txt = dict(family=SERIF, size=38, color="black")
annotations = [
    dict(x=5909, y=0.49477, xref="x", yref="y", xanchor="left", yanchor="middle",
         text="relaxation :  <i>e</i><sup>\u2212<i>t</i>/<i>\u03c4</i></sup>",
         showarrow=False, font=txt),
    dict(x=26000, y=0.46458, xref="x", yref="y", xanchor="center", yanchor="middle",
         text="revival", showarrow=False, font=txt),
    dict(x=43773, y=0.49760, xref="x", yref="y", xanchor="center", yanchor="middle",
         text="long time average", showarrow=False, font=txt),
    dict(x=-0.0672, y=(M_T + PLOT_H - 30) / PLOT_H, xref="paper", yref="paper",
         xanchor="left", yanchor="middle",
         text="|\u27e8<i>\u03d5</i>(0)|<i>\u03d5</i>(t)\u27e9|<sup>2</sup>",
         showarrow=False, font=dict(family=SERIF, size=37, color="black")),
    dict(x=(1262 - M_L) / PLOT_W, y=-0.004, xref="paper", yref="paper",
         xanchor="left", yanchor="middle",
         text="t/J", showarrow=False, font=txt),
]
# horizontal tick labels, sitting between the axis line and the page edge
for v, s in zip(x_tick_vals, x_tick_text):
    annotations.append(dict(
        x=v, y=-(M_B - 1) / PLOT_H, xref="x", yref="paper", xanchor="center", yanchor="bottom",
        text=s, showarrow=False, font=dict(family=SERIF, size=37, color="black"),
    ))

fig.update_layout(
    width=FIG_W, height=FIG_H,
    margin=dict(l=M_L, r=M_R, t=M_T, b=M_B, pad=0),
    paper_bgcolor="white", plot_bgcolor="white",
    font=dict(family=SERIF, size=38, color="black"),
    shapes=shapes, annotations=annotations,
    xaxis=dict(
        range=X_RANGE, domain=[0, 1], showgrid=False, zeroline=False,
        showline=True, linecolor=AXIS_GRAY, linewidth=1.5,
        tickmode="array", tickvals=x_tick_vals, showticklabels=False,
        ticks="inside", ticklen=10, tickwidth=1.2, tickcolor=AXIS_GRAY,
        minor=dict(ticks="inside", ticklen=6, tickwidth=1.2, tickcolor=AXIS_GRAY,
                   tickmode="linear", tick0=0, dtick=2000, showgrid=False),
        automargin=False,
    ),
    yaxis=dict(
        range=Y_RANGE, anchor="free", position=(118 - M_L) / PLOT_W,
        showgrid=False, zeroline=False,
        showline=True, linecolor=AXIS_GRAY, linewidth=1.5,
        tickmode="array", tickvals=y_tick_vals, tickformat=".3f",
        ticks="inside", ticklen=10, tickwidth=1.2, tickcolor=AXIS_GRAY,
        minor=dict(ticks="inside", ticklen=6, tickwidth=1.2, tickcolor=AXIS_GRAY,
                   tickmode="linear", tick0=0.5, dtick=0.001, showgrid=False),
        tickfont=dict(family=SERIF, size=38, color="black"),
        automargin=False,
    ),
)

fig.write_html("out.html")
